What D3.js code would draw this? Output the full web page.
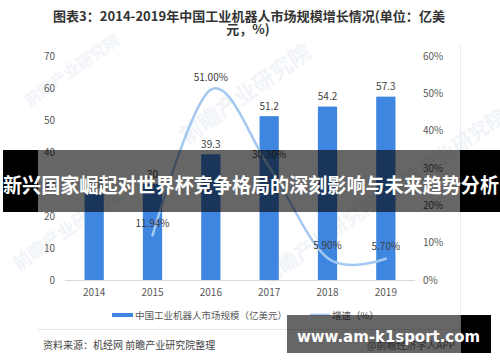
<!DOCTYPE html>
<html>
<head>
<meta charset="utf-8">
<script src="https://cdn.jsdelivr.net/npm/d3@7"></script>
<style>
  html, body { margin: 0; padding: 0; background: #fff; }
  svg { display: block; font-family: "Noto Sans CJK SC", "Noto Sans", sans-serif; }
</style>
</head>
<body>
<div id="chart"></div>
<script>
// 数据
const years = ['2014', '2015', '2016', '2017', '2018', '2019'];
const marketSize = [26.8, 30, 39.3, 51.2, 54.2, 57.3];       // 亿美元
const growthRate = [null, 11.94, 51.00, 30.30, 5.90, 5.70];   // %
const leftTicks = [0, 10, 20, 30, 40, 50, 60, 70];
const rightTicks = [0, 10, 20, 30, 40, 50, 60];

const width = 500, height = 362;
const plot = { left: 65, right: 415, top: 56, bottom: 280 };

const svg = d3.select('#chart').append('svg')
  .attr('width', width)
  .attr('height', height);

svg.append('rect').attr('width', width).attr('height', height).attr('fill', '#fff');

// 水印（放在最底层）
const marks = [
  { x: 250, y: 100, s: 22 },
  { x: 75, y: 75, s: 16 },
  { x: 325, y: 245, s: 20 },
  { x: 70, y: 235, s: 18 },
  { x: 450, y: 160, s: 20 }
];
svg.append('g').selectAll('text')
  .data(marks)
  .enter()
  .append('text')
  .attr('transform', d => `translate(${d.x},${d.y}) rotate(-35)`)
  .attr('text-anchor', 'middle')
  .attr('font-size', d => d.s)
  .attr('font-weight', 'bold')
  .attr('fill', '#f1f4f8')
  .text('前瞻产业研究院');

// 标题
const title = svg.append('g')
  .attr('font-weight', 'bold')
  .attr('font-size', 13)
  .attr('fill', '#333')
  .attr('text-anchor', 'middle');
title.append('text')
  .attr('x', 249).attr('y', 21)
  .attr('textLength', 392).attr('lengthAdjust', 'spacingAndGlyphs')
  .text('图表3：2014-2019年中国工业机器人市场规模增长情况(单位：亿美');
title.append('text')
  .attr('x', 248).attr('y', 34)
  .text('元，%)');

// 外框线
svg.append('line')
  .attr('x1', 460.5).attr('x2', 460.5).attr('y1', 44).attr('y2', 329)
  .attr('stroke', '#e6ecf3');
svg.append('line')
  .attr('x1', 38).attr('x2', 461).attr('y1', 329.5).attr('y2', 329.5)
  .attr('stroke', '#e6e6e6');

// 比例尺
const x = d3.scaleBand()
  .domain(years)
  .range([plot.left, plot.right])
  .paddingInner(0.67)
  .paddingOuter(0.335);

const yLeft = d3.scaleLinear().domain([0, 70]).range([plot.bottom, plot.top]);
const yRight = d3.scaleLinear().domain([0, 60]).range([plot.bottom, plot.top]);

const cx = d => x(d) + x.bandwidth() / 2;

// 柱子
const rows = years.map((y, i) => ({ year: y, size: marketSize[i], rate: growthRate[i] }));

svg.append('g').selectAll('rect')
  .data(rows)
  .enter()
  .append('rect')
  .attr('x', d => x(d.year))
  .attr('y', d => yLeft(d.size))
  .attr('width', x.bandwidth())
  .attr('height', d => yLeft(0) - yLeft(d.size))
  .attr('fill', '#3f86e0');

svg.append('g').selectAll('text')
  .data(rows)
  .enter()
  .append('text')
  .attr('x', d => cx(d.year))
  .attr('y', d => yLeft(d.size) - 6.5)
  .attr('text-anchor', 'middle')
  .attr('font-size', 10)
  .attr('fill', '#404040')
  .text(d => String(d.size));

// 基线
svg.append('line')
  .attr('x1', plot.left).attr('x2', plot.right)
  .attr('y1', plot.bottom + 0.5).attr('y2', plot.bottom + 0.5)
  .attr('stroke', '#d9d9d9');

// 增速曲线
const line = d3.line()
  .defined(d => d.rate !== null)
  .x(d => cx(d.year))
  .y(d => yRight(d.rate))
  .curve(d3.curveCardinal.tension(0));

svg.append('path')
  .datum(rows)
  .attr('d', line)
  .attr('fill', 'none')
  .attr('stroke', '#a3c8f2')
  .attr('stroke-width', 2.5)
  .attr('stroke-linecap', 'round');

svg.append('g').selectAll('text')
  .data(rows.filter(d => d.rate !== null))
  .enter()
  .append('text')
  .attr('x', d => cx(d.year))
  .attr('y', d => yRight(d.rate) - 8.5)
  .attr('text-anchor', 'middle')
  .attr('font-size', 10)
  .attr('fill', '#404040')
  .text(d => d.rate.toFixed(2) + '%');

// 坐标轴
const axisLeft = svg.append('g')
  .attr('transform', `translate(${plot.left - 8},0)`)
  .call(d3.axisLeft(yLeft).tickValues(leftTicks).tickSize(0).tickPadding(2));

const axisRight = svg.append('g')
  .attr('transform', `translate(${plot.right + 6},0)`)
  .call(d3.axisRight(yRight).tickValues(rightTicks).tickSize(0).tickPadding(2)
    .tickFormat(d => d + '%'));

const axisBottom = svg.append('g')
  .attr('transform', `translate(0,${plot.bottom + 7})`)
  .call(d3.axisBottom(x).tickSize(0).tickPadding(2));

[axisLeft, axisRight, axisBottom].forEach(a => {
  a.select('.domain').remove();
  a.selectAll('text')
    .attr('font-family', '"Noto Sans CJK SC", sans-serif')
    .attr('font-size', 10)
    .attr('fill', '#595959');
});

// 图例
const legend = svg.append('g').attr('font-size', 9.5).attr('fill', '#595959');
legend.append('rect')
  .attr('x', 112).attr('y', 313).attr('width', 21).attr('height', 4)
  .attr('fill', '#3f86e0');
legend.append('text')
  .attr('x', 135).attr('y', 318.5)
  .text('中国工业机器人市场规模（亿美元）');
legend.append('line')
  .attr('x1', 310).attr('x2', 330).attr('y1', 314.5).attr('y2', 314.5)
  .attr('stroke', '#a3c8f2').attr('stroke-width', 1.5);
legend.append('text')
  .attr('x', 332).attr('y', 318.5)
  .text('增速（%）');

// 来源
svg.append('text')
  .attr('x', 43).attr('y', 349)
  .attr('font-size', 10)
  .attr('fill', '#444')
  .text('资料来源：机经网 前瞻产业研究院整理');
svg.append('text')
  .attr('x', 367).attr('y', 349)
  .attr('font-size', 10)
  .attr('fill', '#777')
  .text('@前瞻经济学人APP');

// 中间横幅
const banner = svg.append('g');
banner.append('rect')
  .attr('x', 3).attr('y', 150).attr('width', 35).attr('height', 62)
  .attr('fill', '#000');
banner.append('rect')
  .attr('x', 38).attr('y', 150).attr('width', 422).attr('height', 62)
  .attr('fill', 'rgba(0,0,0,0.6)');
banner.append('rect')
  .attr('x', 460).attr('y', 150).attr('width', 40).attr('height', 62)
  .attr('fill', '#000');
banner.append('text')
  .attr('x', 3).attr('y', 193)
  .attr('textLength', 496).attr('lengthAdjust', 'spacingAndGlyphs')
  .attr('font-size', 20)
  .attr('font-weight', 'bold')
  .attr('fill', '#fff')
  .text('新兴国家崛起对世界杯竞争格局的深刻影响与未来趋势分析');

// 底部网址
const site = svg.append('g');
site.append('rect')
  .attr('x', 287).attr('y', 315).attr('width', 174).attr('height', 38)
  .attr('fill', 'rgba(0,0,0,0.6)');
site.append('rect')
  .attr('x', 461).attr('y', 315).attr('width', 30).attr('height', 38)
  .attr('fill', '#000');
site.append('text')
  .attr('x', 297).attr('y', 342)
  .attr('textLength', 183).attr('lengthAdjust', 'spacingAndGlyphs')
  .attr('font-family', '"DejaVu Sans", sans-serif')
  .attr('font-size', 16)
  .attr('font-weight', 'bold')
  .attr('fill', '#fff')
  .text('www.am-k1sport.com');
</script>
</body>
</html>
